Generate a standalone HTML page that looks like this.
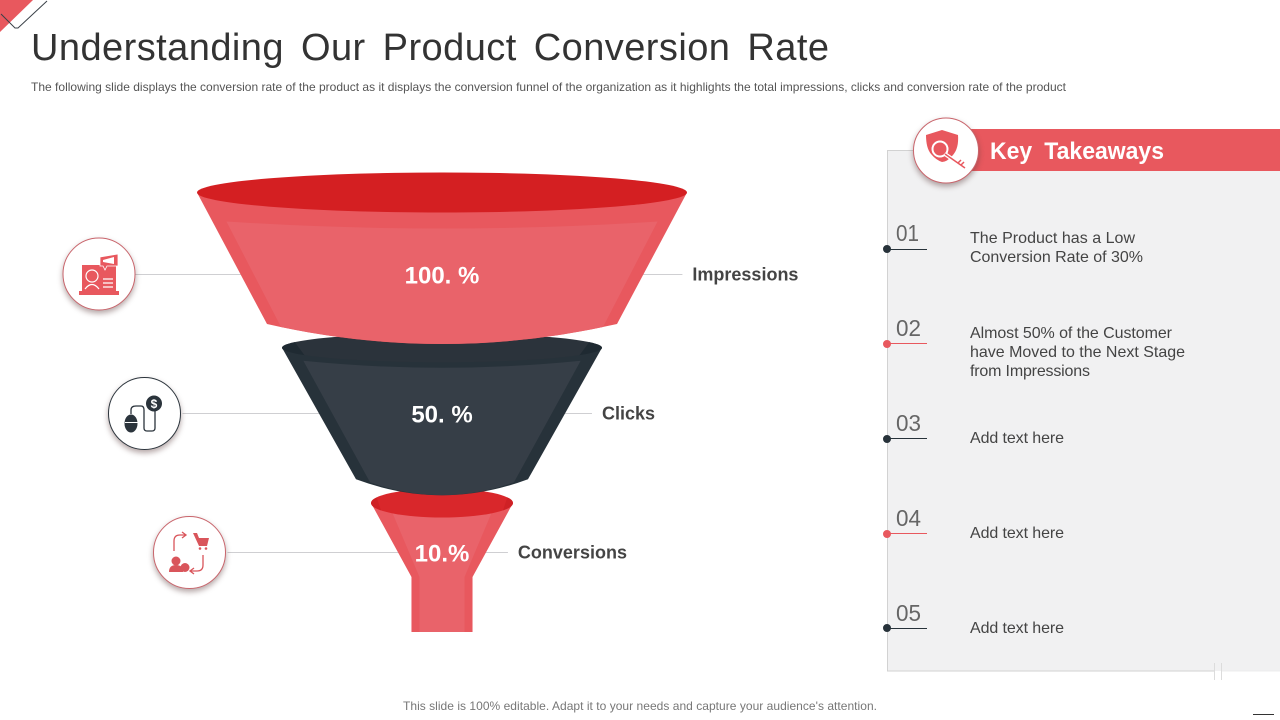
<!DOCTYPE html>
<html lang="en">
<head>
<meta charset="utf-8">
<title>Understanding Our Product Conversion Rate</title>
<style>
html,body{margin:0;padding:0;background:#fff;width:1280px;height:720px;overflow:hidden}
svg{display:block;font-family:"Liberation Sans",sans-serif}
.shadow{filter:drop-shadow(0 3px 3px rgba(90,60,60,.45))}
</style>
</head>
<body>
<svg id="slide" width="1280" height="720" viewBox="0 0 1280 720" xmlns="http://www.w3.org/2000/svg">
  <g>
    <polygon points="0,0 33,0 0,32" fill="#e8585e"/>
    <polyline points="47,1 18,28 15,28 1,14" fill="none" stroke="#3a4148" stroke-width="1"/>
  </g>
  <text x="31" y="60" font-size="38" fill="#333" word-spacing="6" textLength="798" lengthAdjust="spacing">Understanding Our Product Conversion Rate</text>
  <text x="31" y="91" font-size="12" fill="#555" textLength="1035" lengthAdjust="spacing">The following slide displays the conversion rate of the product as it displays the conversion funnel of the organization as it highlights the total impressions, clicks and conversion rate of the product</text>

  <g id="funnel"></g>

  <g>
    <circle class="shadow" cx="99" cy="274" r="36" fill="#fff" stroke="#c9656c" stroke-width="1"/>
    <rect x="82" y="265" width="34" height="26" fill="#e8585e"/>
    <rect x="79" y="291" width="40" height="4" fill="#e8585e"/>
    <circle cx="92" cy="276" r="6" fill="none" stroke="#fff" stroke-width="1.2"/>
    <path d="M85 289q7-9 14 0" fill="none" stroke="#fff" stroke-width="1.2"/>
    <path d="M103 279h10M103 283h10M103 287h10" stroke="#fff" stroke-width="1.3"/>
    <path d="M100 257l18-3v12h-11l-2 4-2-4h-3z" fill="#e8585e" stroke="#fff" stroke-width=".8"/>
    <path d="M103 260l11-3v7l-11-2z" fill="#fff"/>
  </g>
  <g>
    <circle class="shadow" cx="144.500" cy="413.500" r="36" fill="#fff" stroke="#2b343c" stroke-width="1"/>
    <ellipse cx="131" cy="423.500" rx="6.500" ry="9" fill="#2b343c"/>
    <path d="M125 422.500h13" stroke="#fff" stroke-width="1"/>
    <path d="M131 414v-4q0-4 5-4h5q3 0 3 4v18q0 3 3 3h5q3 0 3-3v-18" fill="none" stroke="#2b343c" stroke-width="1.300"/>
    <circle cx="154" cy="403.500" r="8" fill="#2b343c"/>
    <text x="154" y="408" font-size="12" font-weight="bold" fill="#fff" text-anchor="middle">$</text>
  </g>
  <g>
    <circle class="shadow" cx="189.500" cy="552.500" r="36" fill="#fff" stroke="#c9656c" stroke-width="1"/>
    <path d="M174 551v-10q0-6 6-6h5m-3-3l4 3-4 3" fill="none" stroke="#d9555b" stroke-width="1.300"/>
    <path d="M203 555v10q0 6-6 6h-6m3-3l-4 3 4 3" fill="none" stroke="#d9555b" stroke-width="1.300"/>
    <path d="M193 533h4l2 5h10l-2 8h-8z" fill="#d9555b"/>
    <circle cx="200" cy="548.500" r="1.300" fill="#d9555b"/><circle cx="206" cy="548.500" r="1.300" fill="#d9555b"/>
    <circle cx="176" cy="561" r="4.500" fill="#d9555b"/>
    <path d="M169 572q0-7 7-7t7 7z" fill="#d9555b"/>
    <circle cx="185" cy="567.500" r="4.500" fill="#d9555b"/>
  </g>

  <g>
    <rect x="887.500" y="150.500" width="393" height="520.500" fill="#f1f1f2"/>
    <path d="M1280 150.500H887.500V671H1214" fill="none" stroke="#d2d2d2" stroke-width="1"/>
    <path d="M1222 671h58" stroke="#ececec" stroke-width="1"/>
    <path d="M1214.500 663v17M1221.500 663v17" stroke="#dcdcdc" stroke-width="1"/>
    <rect x="960" y="129" width="320" height="42" fill="#e8585e"/>
    <circle class="shadow" cx="946" cy="150.500" r="32.500" fill="#fff" stroke="#c9656c" stroke-width="1"/>
    <g>
      <path d="M942 130l16 5q1 13-5 20t-11 7q-6-2-11-8t-5-19z" fill="#e8585e"/>
      <circle cx="940" cy="149" r="7.500" fill="#e8585e" stroke="#fff" stroke-width="2"/>
      <path d="M945 154l20 14M958 163l3-3M961 166l3-3" stroke="#fff" stroke-width="4"/>
      <path d="M945 154l20 14M958 163l3-3M961 165l3-3" stroke="#e8585e" stroke-width="1.500" fill="none"/>
    </g>
    <text x="990" y="159" font-size="24" font-weight="bold" fill="#fff" word-spacing="6" textLength="174" lengthAdjust="spacingAndGlyphs">Key Takeaways</text>
  </g>

  <g>
    <line x1="887" y1="249.500" x2="927" y2="249.500" stroke="#27323a"/><circle cx="887" cy="249" r="4" fill="#27323a"/>
    <text x="896" y="241" font-size="23" fill="#666" textLength="23" lengthAdjust="spacingAndGlyphs">01</text>
    <text x="970" y="243" font-size="16" fill="#444" textLength="165" lengthAdjust="spacing">The Product has a Low</text>
    <text x="970" y="262" font-size="16" fill="#444" textLength="173" lengthAdjust="spacing">Conversion Rate of 30%</text>
  </g>
  <g>
    <line x1="887" y1="343.500" x2="927" y2="343.500" stroke="#e8585e"/><circle cx="887" cy="344" r="4" fill="#e8585e"/>
    <text x="896" y="336" font-size="23" fill="#666" textLength="25" lengthAdjust="spacingAndGlyphs">02</text>
    <text x="970" y="338" font-size="16" fill="#444" textLength="202" lengthAdjust="spacing">Almost 50% of the Customer</text>
    <text x="970" y="357" font-size="16" fill="#444" textLength="215" lengthAdjust="spacing">have Moved to the Next Stage</text>
    <text x="970" y="376" font-size="16" fill="#444" textLength="120" lengthAdjust="spacing">from Impressions</text>
  </g>
  <g>
    <line x1="887" y1="438.500" x2="927" y2="438.500" stroke="#27323a"/><circle cx="887" cy="439" r="4" fill="#27323a"/>
    <text x="896" y="431" font-size="23" fill="#666" textLength="25" lengthAdjust="spacingAndGlyphs">03</text>
    <text x="970" y="443" font-size="16" fill="#444" textLength="94" lengthAdjust="spacing">Add text here</text>
  </g>
  <g>
    <line x1="887" y1="533.500" x2="927" y2="533.500" stroke="#e8585e"/><circle cx="887" cy="534" r="4" fill="#e8585e"/>
    <text x="896" y="526" font-size="23" fill="#666" textLength="25" lengthAdjust="spacingAndGlyphs">04</text>
    <text x="970" y="538" font-size="16" fill="#444" textLength="94" lengthAdjust="spacing">Add text here</text>
  </g>
  <g>
    <line x1="887" y1="628.500" x2="927" y2="628.500" stroke="#27323a"/><circle cx="887" cy="628" r="4" fill="#27323a"/>
    <text x="896" y="621" font-size="23" fill="#666" textLength="25" lengthAdjust="spacingAndGlyphs">05</text>
    <text x="970" y="633" font-size="16" fill="#444" textLength="94" lengthAdjust="spacing">Add text here</text>
  </g>

  <text x="403" y="710" font-size="12" fill="#777" textLength="474" lengthAdjust="spacing">This slide is 100% editable. Adapt it to your needs and capture your audience's attention.</text>
  <line x1="1253" y1="714.500" x2="1274" y2="714.500" stroke="#333" stroke-width="1"/>
</svg>

<script>
const categories = ['Impressions', 'Clicks', 'Conversions'];
const stageValues = [100, 50, 10];
const valueLabels = ['100. %', '50. %', '10.%'];

const SVG_NS = 'http://www.w3.org/2000/svg';
const funnelRoot = document.getElementById('funnel');
const CENTER_X = 442;

// value axis -> full rim width of a funnel stage (piecewise linear)
function widthScale(v) {
  const d0 = 10, d1 = 50, d2 = 100;
  if (v <= d1) return 142 + (v - d0) / (d1 - d0) * (320 - 142);
  return 320 + (v - d1) / (d2 - d1) * (490 - 320);
}
// stage index axis -> vertical positions
function rimY(i) { return 192.5 + 155.25 * i; }
function labelY(i) { return 274.5 + 139 * i; }

function rimRadius(i) { return widthScale(stageValues[i]) / 2; }
function rimDepth(i) { return Math.max(14.5, rimRadius(i) * 0.0815); }
function lowerRadius(i) {
  const last = i === stageValues.length - 1;
  return last ? rimRadius(i) * 0.43 : rimRadius(i + 1) + 15;
}
function lowerY(i) {
  const last = i === stageValues.length - 1;
  return rimY(i) + (last ? 74 : 131.5);
}
function edgeHalfWidth(i, y) {
  const r = rimRadius(i), b = lowerRadius(i);
  const t = Math.min(1, Math.max(0, (y - rimY(i)) / (lowerY(i) - rimY(i))));
  return r + (b - r) * t;
}
// gap between the funnel edge and its stage label
function labelGap(half) {
  return half <= 123 ? 32 + (half - 44) * 0.063 : 37 + (half - 123) * 0.154;
}
function addMark(tag, attrs, parent) {
  const el = document.createElementNS(SVG_NS, tag);
  for (const k in attrs) el.setAttribute(k, attrs[k]);
  (parent || funnelRoot).appendChild(el);
  return el;
}

// connector lines go behind the funnel
stageValues.forEach(function (v, i) {
  const y = labelY(i);
  const half = edgeHalfWidth(i, y);
  const iconEdge = 135.5 + 45 * i + (i > 0 ? 2 : 0);
  const leftLine = addMark('line', { x1: iconEdge, y1: y, x2: CENTER_X - half + 2, y2: y, stroke: '#cfcfd2', 'stroke-width': 1 });
  
  
  const labelX = CENTER_X + half + labelGap(half);
  const rightLine = addMark('line', { x1: CENTER_X + half - 2, y1: y, x2: labelX - 10, y2: y, stroke: '#cfcfd2', 'stroke-width': 1 });
  
  
  const label = addMark('text', { x: labelX, y: y + 6, 'font-size': 18, 'font-weight': 'bold', fill: '#444' });
  
  
  label.textContent = categories[i];
});

// draw from the narrowest stage upward so upper stages overlap lower rims
for (let i = stageValues.length - 1; i >= 0; i--) {
  const dark = i % 2 === 1;
  const last = i === stageValues.length - 1;
  const sideFill = dark ? '#27323a' : '#e8585e';
  const innerFill = dark ? '#363e47' : '#e9636a';
  const rimFill = dark ? '#2b333b' : (last ? '#d9272b' : '#d41f22');
  const tipFill = dark ? '#1f2a32' : '#cf2125';
  const y0 = rimY(i), r = rimRadius(i), ry = rimDepth(i);
  const yb = lowerY(i), b = lowerRadius(i);
  const stemY = 632;
  const inset = 14;
  const g = addMark('g', {});
  
  

  let outline, inner;
  const L = CENTER_X - r, R = CENTER_X + r;
  if (last) {
    outline = 'M' + L + ' ' + y0 + 'L' + (CENTER_X - b) + ' ' + yb + 'V' + stemY + 'H' + (CENTER_X + b) + 'V' + yb + 'L' + R + ' ' + y0 + 'Z';
    const ti = CENTER_X - edgeHalfWidth(i, y0 + 10) + 16;
    const tr = CENTER_X + edgeHalfWidth(i, y0 + 10) - 16;
    const ni = b - 8;
    inner = 'M' + ti + ' ' + (y0 + 10) + 'L' + (CENTER_X - ni) + ' ' + yb + 'V' + stemY + 'H' + (CENTER_X + ni) + 'V' + yb + 'L' + tr + ' ' + (y0 + 10) + 'Z';
  } else {
    const dip = dark ? 16 : 20;
    outline = 'M' + L + ' ' + y0 + 'L' + (CENTER_X - b) + ' ' + yb + 'Q' + CENTER_X + ' ' + (yb + dip * 2) + ' ' + (CENTER_X + b) + ' ' + yb + 'L' + R + ' ' + y0 + 'Z';
    const topOff = dark ? 13 : 29;
    const topY = y0 + topOff;
    const ih = edgeHalfWidth(i, topY) - inset;
    const ib = b - inset;
    const ibY = yb + 3;
    inner = 'M' + (CENTER_X - ih) + ' ' + topY + 'L' + (CENTER_X - ib) + ' ' + ibY + 'Q' + CENTER_X + ' ' + (yb + dip * 2 - 3) + ' ' + (CENTER_X + ib) + ' ' + ibY + 'L' + (CENTER_X + ih) + ' ' + topY + 'Q' + CENTER_X + ' ' + (topY + 14) + ' ' + (CENTER_X - ih) + ' ' + topY + 'Z';
  }
  const body = addMark('path', { d: outline, fill: sideFill }, g);
  
  
  const panel = addMark('path', { d: inner, fill: innerFill }, g);
  
  
  const rim = addMark('ellipse', { cx: CENTER_X, cy: y0, rx: r, ry: ry, fill: rimFill }, g);
  
  
  if (i > 0) {
    const w1 = r * 0.08, w2 = r * 0.14;
    const h1 = ry * Math.sqrt(1 - Math.pow((r - w1) / r, 2));
    const h2 = ry * Math.sqrt(1 - Math.pow((r - w2) / r, 2));
    const leftTip = 'M' + (L + w1) + ' ' + (y0 - h1) + 'A' + r + ' ' + ry + ' 0 0 0 ' + (L + w2) + ' ' + (y0 + h2) + 'Z';
    const rightTip = 'M' + (R - w1) + ' ' + (y0 - h1) + 'A' + r + ' ' + ry + ' 0 0 1 ' + (R - w2) + ' ' + (y0 + h2) + 'Z';
    [leftTip, rightTip].forEach(function (d) {
      const tip = addMark('path', { d: d, fill: tipFill }, g);
      
      
    });
  }
}

// printed values sit on top of all stages
stageValues.forEach(function (v, i) {
  const t = addMark('text', { x: CENTER_X, y: labelY(i) + 9, 'font-size': 24, 'font-weight': 'bold', fill: '#fff', 'text-anchor': 'middle' });
  
  
  t.textContent = valueLabels[i];
});
</script>
</body>
</html>
